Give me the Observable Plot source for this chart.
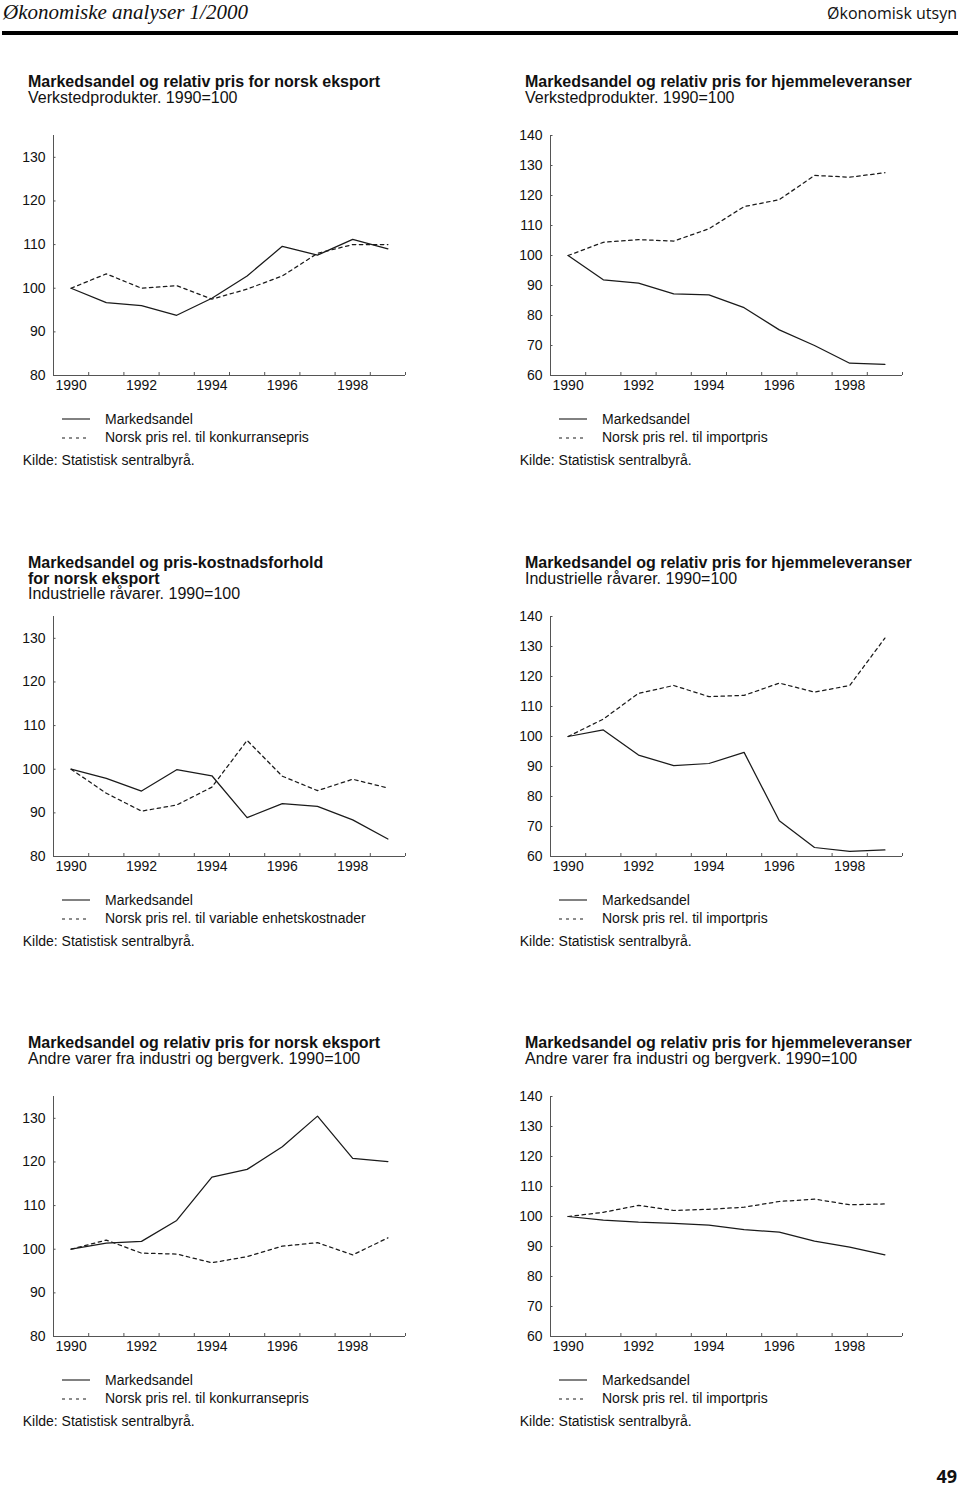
<!DOCTYPE html>
<html><head><meta charset="utf-8">
<script src="https://cdn.jsdelivr.net/npm/d3@7"></script>
<script src="https://cdn.jsdelivr.net/npm/@observablehq/plot@0.6"></script>
<style>
html,body{margin:0;padding:0;background:#fff;}
#page{position:relative;width:960px;height:1495px;overflow:hidden;background:#fff;}
.t{position:absolute;white-space:nowrap;color:#111;font-family:'Liberation Sans',Arial,Helvetica,sans-serif;line-height:1;}
.c{position:absolute;}
</style></head><body><div id="page"></div>
<script>
// ---------- DATA ----------
const years = [1990, 1991, 1992, 1993, 1994, 1995, 1996, 1997, 1998, 1999];
const xLabelYears = [1990, 1992, 1994, 1996, 1998];
const yTicksEksport = [80, 90, 100, 110, 120, 130];
const yTicksHjemme = [60, 70, 80, 90, 100, 110, 120, 130, 140];
const yDomainEksport = [80, 135];
const yDomainHjemme = [60, 140];

// Verkstedprodukter – eksport
const vpEksMarkedsandel = [100, 96.7, 96.0, 93.8, 97.7, 102.8, 109.6, 107.6, 111.2, 109.0];
const vpEksRelPris      = [100, 103.3, 100.0, 100.6, 97.5, 99.8, 102.8, 108.0, 110.0, 110.0];
// Verkstedprodukter – hjemmeleveranser
const vpHjemMarkedsandel = [100, 91.9, 90.8, 87.2, 86.9, 82.6, 75.2, 70.0, 64.1, 63.7];
const vpHjemRelPris      = [100, 104.4, 105.3, 104.8, 108.9, 116.3, 118.6, 126.7, 126.1, 127.6];
// Industrielle råvarer – eksport
const irEksMarkedsandel = [100, 97.9, 95.0, 99.9, 98.5, 88.9, 92.1, 91.5, 88.4, 84.0];
const irEksRelKost      = [100, 94.5, 90.4, 91.8, 95.9, 106.6, 98.4, 95.1, 97.7, 95.7];
// Industrielle råvarer – hjemmeleveranser
const irHjemMarkedsandel = [100, 102.2, 93.8, 90.3, 91.0, 94.7, 71.9, 63.0, 61.7, 62.2];
const irHjemRelPris      = [100, 105.8, 114.4, 117.0, 113.3, 113.7, 117.8, 114.8, 117.0, 132.8];
// Andre varer fra industri og bergverk – eksport
const avEksMarkedsandel = [100, 101.4, 101.8, 106.6, 116.5, 118.3, 123.5, 130.5, 120.8, 120.1];
const avEksRelPris      = [100, 102.1, 99.1, 98.9, 96.9, 98.3, 100.7, 101.5, 98.7, 102.6];
// Andre varer fra industri og bergverk – hjemmeleveranser
const avHjemMarkedsandel = [100, 98.8, 98.1, 97.7, 97.1, 95.6, 94.8, 91.8, 89.8, 87.2];
const avHjemRelPris      = [100, 101.4, 103.7, 102.0, 102.4, 103.1, 105.0, 105.8, 103.9, 104.2];

// Texts
const headerLeft = "Økonomiske analyser 1/2000";
const headerRight = "Økonomisk utsyn";
const pageNumber = "49";
const legendSolid = "Markedsandel";
const sourceText = "Kilde: Statistisk sentralbyrå.";
const titles = [
  ["Markedsandel og relativ pris for norsk eksport"],
  ["Markedsandel og relativ pris for hjemmeleveranser"],
  ["Markedsandel og pris-kostnadsforhold", "for norsk eksport"],
  ["Markedsandel og relativ pris for hjemmeleveranser"],
  ["Markedsandel og relativ pris for norsk eksport"],
  ["Markedsandel og relativ pris for hjemmeleveranser"]
];
const subtitles = [
  "Verkstedprodukter. 1990=100",
  "Verkstedprodukter. 1990=100",
  "Industrielle råvarer. 1990=100",
  "Industrielle råvarer. 1990=100",
  "Andre varer fra industri og bergverk. 1990=100",
  "Andre varer fra industri og bergverk. 1990=100"
];
const dashedLabels = [
  "Norsk pris rel. til konkurransepris",
  "Norsk pris rel. til importpris",
  "Norsk pris rel. til variable enhetskostnader",
  "Norsk pris rel. til importpris",
  "Norsk pris rel. til konkurransepris",
  "Norsk pris rel. til importpris"
];
const solidSeries = [vpEksMarkedsandel, vpHjemMarkedsandel, irEksMarkedsandel, irHjemMarkedsandel, avEksMarkedsandel, avHjemMarkedsandel];
const dashedSeries = [vpEksRelPris, vpHjemRelPris, irEksRelKost, irHjemRelPris, avEksRelPris, avHjemRelPris];
const yDomains = [yDomainEksport, yDomainHjemme, yDomainEksport, yDomainHjemme, yDomainEksport, yDomainHjemme];
const yTickSets = [yTicksEksport, yTicksHjemme, yTicksEksport, yTicksHjemme, yTicksEksport, yTicksHjemme];

// ---------- LAYOUT ----------
const page = document.getElementById("page");
const INK = "#111";
const AXIS = "#555";
const LINE_W = 1.25;
const DASH = "3.5,3.5";
const SANS = "'Liberation Sans', Arial, Helvetica, sans-serif";

function addText(x, baseline, str, fs, o = {}) {
  const d = document.createElement("div");
  d.className = "t";
  d.textContent = str;
  const ratio = o.ratio ?? 0.8465;
  d.style.fontSize = fs + "px";
  d.style.top = (baseline - ratio * fs) + "px";
  if (o.align === "right") d.style.right = (960 - x) + "px"; else d.style.left = x + "px";
  if (o.weight) d.style.fontWeight = o.weight;
  if (o.style) d.style.fontStyle = o.style;
  if (o.family) d.style.fontFamily = o.family;
  page.appendChild(d);
  return d;
}
function addSample(x1, x2, y, dash) {
  const ns = "http://www.w3.org/2000/svg";
  const s = document.createElementNS(ns, "svg");
  s.setAttribute("width", x2 - x1);
  s.setAttribute("height", 4);
  s.style.position = "absolute";
  s.style.left = x1 + "px";
  s.style.top = (y - 2) + "px";
  const l = document.createElementNS(ns, "line");
  l.setAttribute("x1", 0); l.setAttribute("x2", x2 - x1);
  l.setAttribute("y1", 2); l.setAttribute("y2", 2);
  l.setAttribute("stroke", "#1a1a1a");
  l.setAttribute("stroke-width", 1.1);
  if (dash) l.setAttribute("stroke-dasharray", "3,4");
  s.appendChild(l);
  page.appendChild(s);
}

// Header
addText(3, 20, headerLeft, 21, {family: "'Liberation Serif', 'DejaVu Serif', serif", style: "italic", ratio: 0.8375});
addText(957, 19, headerRight, 16, {family: "'Open Sans', sans-serif", align: "right", ratio: 0.888});
const rule = document.createElement("div");
rule.style.cssText = "position:absolute;left:2px;width:956px;top:31px;height:4px;background:#000;";
page.appendChild(rule);
addText(957, 1483, pageNumber, 18, {family: "'Open Sans', sans-serif", weight: 700, align: "right", ratio: 0.888});

const colX = [0, 497];
const rowTop = [135, 616, 1096];
const xDomain = [years[0] - 0.5, years[years.length - 1] + 0.5];
const yearBoundaries = years.map(y => y + 0.5);

for (let i = 0; i < 6; i++) {
  const cx = colX[i % 2];
  const top = rowTop[Math.floor(i / 2)];
  const bottom = top + 240;
  // titles
  let b = top - 47;
  titles[i].forEach((line, k) => { addText(cx + 28, b, line, 16, {weight: 700}); b += 15.5; });
  addText(cx + 28, b, subtitles[i], 16);

  const rows = years.map((year, k) => ({year, solid: solidSeries[i][k], dashed: dashedSeries[i][k]}));
  const yDomain = yDomains[i];
  const chart = Plot.plot({
    width: 480, height: 280,
    marginLeft: 53, marginRight: 75, marginTop: 15, marginBottom: 25,
    x: {domain: xDomain, axis: null, label: null},
    y: {domain: yDomain, axis: null, label: null},
    style: {fontFamily: SANS, fontSize: "14px", color: INK, background: "transparent", overflow: "visible"},
    marks: [
      Plot.ruleX([xDomain[0]], {stroke: AXIS, strokeWidth: 1}),
      Plot.ruleY([yDomain[0]], {stroke: AXIS, strokeWidth: 1}),
      Plot.axisY({ticks: yTickSets[i], tickSize: 0, tickPadding: 8, label: null, fontSize: 14, tickFormat: d => String(d)}),
      Plot.axisY({ticks: yTickSets[i], tickSize: 2.5, dx: 2.5, label: null, stroke: AXIS, tickFormat: () => ""}),
      Plot.axisX({ticks: xLabelYears, tickSize: 0, tickPadding: 5, label: null, fontSize: 14, tickFormat: d => String(d)}),
      Plot.axisX({ticks: yearBoundaries, tickSize: 3, dy: -3, label: null, stroke: AXIS, tickFormat: () => ""}),
      Plot.line(rows, {x: "year", y: "dashed", stroke: "#1a1a1a", strokeWidth: LINE_W, strokeDasharray: DASH}),
      Plot.line(rows, {x: "year", y: "solid", stroke: "#1a1a1a", strokeWidth: LINE_W})
    ]
  });
  chart.classList.add("c");
  chart.style.left = cx + "px";
  chart.style.top = (top - 15) + "px";
  page.appendChild(chart);

  // legend
  addSample(cx + 62, cx + 90, bottom + 44, false);
  addText(cx + 105, bottom + 49, legendSolid, 14);
  addSample(cx + 62, cx + 90, bottom + 62.5, true);
  addText(cx + 105, bottom + 67, dashedLabels[i], 14);
  addText(cx + 22.7, bottom + 90, sourceText, 14);
}
</script></body></html>
